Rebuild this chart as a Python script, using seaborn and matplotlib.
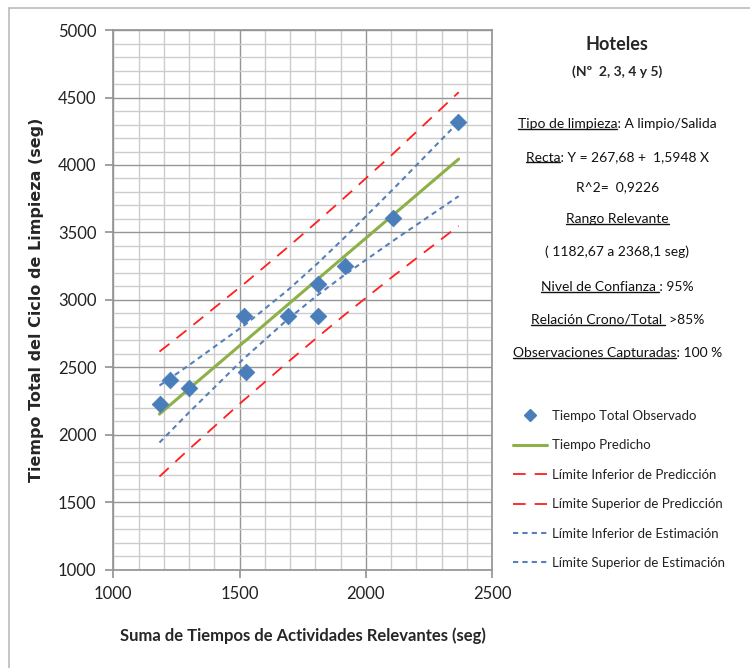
import matplotlib
matplotlib.use("Agg")
import matplotlib.pyplot as plt
import seaborn as sns
import pandas as pd
from matplotlib.lines import Line2D

# --- datos observados ---
obs_x = [1186, 1225, 1301, 1518, 1526, 1692, 1811, 1811, 1918, 2108, 2365]
obs_y = [2230, 2410, 2348, 2881, 2467, 2881, 2881, 3119, 3252, 3607, 4319]

# --- recta y bandas ---
band_x = [1183, 1225, 1301, 1518, 1526, 1692, 1811, 1918, 2108, 2368]
pred_y = [2154, 2221, 2343, 2689, 2701, 2966, 3156, 3327, 3629, 4044]
pi_low = [1691, 1764, 1895, 2259, 2271, 2540, 2727, 2892, 3175, 3549]
pi_up = [2617, 2678, 2791, 3119, 3131, 3392, 3585, 3762, 4083, 4539]
ci_low = [1943, 2023, 2168, 2567, 2580, 2858, 3038, 3188, 3438, 3769]
ci_up = [2365, 2419, 2518, 2811, 2822, 3074, 3274, 3466, 3820, 4319]

labels = ["Tiempo Total Observado", "Tiempo Predicho",
          "Límite Inferior de Predicción", "Límite Superior de Predicción",
          "Límite Inferior de Estimación", "Límite Superior de Estimación"]

info_lines = [
    ("Tipo de limpieza", ": A limpio/Salida"),
    ("Recta", ": Y = 267,68 +  1,5948 X"),
    ("", "R^2=  0,9226"),
    ("Rango Relevante", ""),
    ("", "( 1182,67 a 2368,1 seg)"),
    ("Nivel de Confianza ", ": 95%"),
    ("Relación Crono/Total ", " >85%"),
    ("Observaciones Capturadas", ": 100 %"),
]

sns.set_theme(style="white")
plt.rcParams['font.family'] = ['Lato', 'DejaVu Sans']

BLUE = '#4a7ebb'
GREEN = '#8db048'
RED = '#ff2020'
PINK = '#ffb4b4'
DOT_BLUE = '#5580b8'

df_obs = pd.DataFrame({'x': obs_x, 'y': obs_y})
df_band = pd.DataFrame({'x': band_x, 'pred': pred_y, 'pi_low': pi_low,
                        'pi_up': pi_up, 'ci_low': ci_low, 'ci_up': ci_up})

fig = plt.figure(figsize=(7.5, 6.68), dpi=100)
ax = fig.add_axes([0.151, 0.147, 0.505, 0.808])

red_dash = (0, (7, 5))
pink_dot = (9.5, (1, 11))
blue_dash = (0, (2.5, 2))

for col in ['pi_low', 'pi_up']:
    sns.lineplot(data=df_band, x='x', y=col, ax=ax, color=PINK, lw=1.3,
                 linestyle=pink_dot, zorder=3)
    sns.lineplot(data=df_band, x='x', y=col, ax=ax, color=RED, lw=1.3,
                 linestyle=red_dash, zorder=3)
for col in ['ci_low', 'ci_up']:
    sns.lineplot(data=df_band, x='x', y=col, ax=ax, color=DOT_BLUE, lw=1.5,
                 linestyle=blue_dash, zorder=3)
sns.lineplot(data=df_band, x='x', y='pred', ax=ax, color=GREEN, lw=2.2, zorder=4)
sns.scatterplot(data=df_obs, x='x', y='y', ax=ax, marker='D', s=70,
                color=BLUE, edgecolor=BLUE, zorder=5)

ax.set_xlim(1000, 2500)
ax.set_ylim(1000, 5000)
ax.set_xticks(range(1000, 2501, 500))
ax.set_yticks(range(1000, 5001, 500))
ax.set_xticks(range(1000, 2501, 100), minor=True)
ax.set_yticks(range(1000, 5001, 100), minor=True)
ax.grid(which='minor', color='#cccccc', lw=1.0)
ax.grid(which='major', color='#959595', lw=1.0)
ax.set_axisbelow(True)
for s in ax.spines.values():
    s.set_color('#959595')
ax.tick_params(which='major', direction='out', length=6, color='#959595',
               labelsize=12, labelcolor='#222222', pad=6, left=True, bottom=True)
ax.tick_params(which='minor', length=0)

ax.set_xlabel("Suma de Tiempos de Actividades Relevantes (seg)", fontsize=12,
              fontweight='bold', labelpad=18)
ax.set_ylabel("Tiempo Total del Ciclo de Limpieza (seg)", fontsize=11.5,
              fontweight='bold', family='DejaVu Sans', labelpad=10)

# leyenda
red_h = (Line2D([], [], color=PINK, lw=1.3, linestyle=pink_dot),
         Line2D([], [], color=RED, lw=1.3, linestyle=red_dash))
handles = [
    Line2D([], [], marker='D', color=BLUE, lw=0, markersize=6),
    Line2D([], [], color=GREEN, lw=2.2),
    red_h,
    red_h,
    Line2D([], [], color=DOT_BLUE, lw=1.5, linestyle=blue_dash),
    Line2D([], [], color=DOT_BLUE, lw=1.5, linestyle=blue_dash),
]
fig.legend(handles, labels, loc='upper left', bbox_to_anchor=(0.668, 0.404),
           frameon=False, fontsize=9.5, handlelength=2.6, handletextpad=0.35,
           labelspacing=1.32, labelcolor='#222222')

# bloque de texto
cx = 0.823
fig.text(cx, 1 - 45 / 668, "Hoteles", ha='center', va='center',
         fontsize=13, fontweight='bold')
fig.text(cx, 1 - 72 / 668, "(Nº  2, 3, 4 y 5)", ha='center', va='center',
         fontsize=10, fontweight='bold')

ys = [124, 157, 187, 219, 252, 287, 320, 353]
texts = []
for (under, rest), ypix in zip(info_lines, ys):
    t = fig.text(cx, 1 - ypix / 668, under + rest, ha='center', va='center',
                 fontsize=10, color='#111111')
    texts.append((t, under))

fig.canvas.draw()
renderer = fig.canvas.get_renderer()
for t, under in texts:
    if not under:
        continue
    bb = t.get_window_extent(renderer)
    probe = fig.text(0, 0, under, fontsize=10)
    w = probe.get_window_extent(renderer).width
    probe.remove()
    y0 = bb.y0 + 1
    fig.add_artist(Line2D([bb.x0, bb.x0 + w], [y0, y0], transform=None,
                          color='#111111', lw=1.0))

# borde superior e izquierdo
fig.add_artist(Line2D([9 / 750, 9 / 750], [0, 1 - 8 / 668], color='#bbbbbb', lw=1.2))
fig.add_artist(Line2D([9 / 750, 1], [1 - 8 / 668, 1 - 8 / 668], color='#bbbbbb', lw=1.2))

fig.savefig("out.png", dpi=100)
